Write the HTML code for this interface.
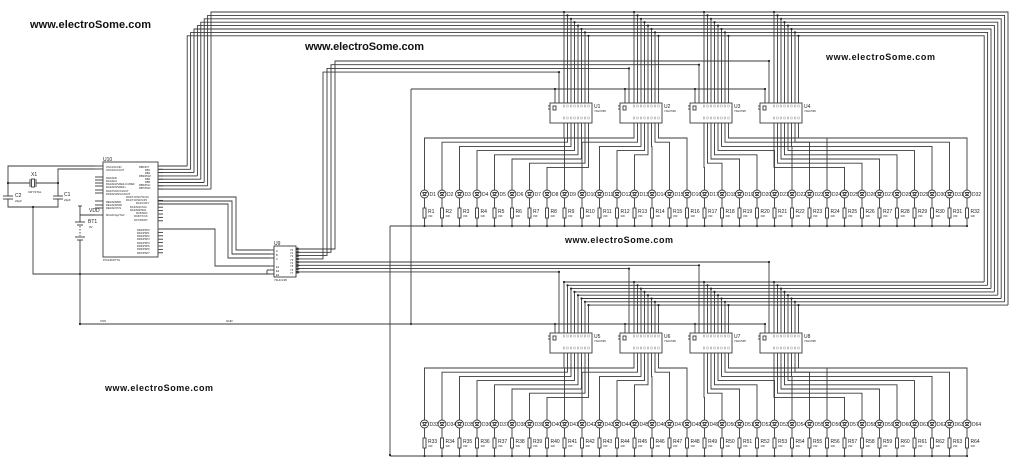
<!DOCTYPE html>
<html><head><meta charset="utf-8"><style>
html,body{margin:0;padding:0;background:#fff;width:1024px;height:467px;overflow:hidden}
svg{display:block}
#w line,#w polyline,#w rect,#w circle.l{stroke:#3a3a3a;stroke-width:0.9;fill:none}
#w rect.c{fill:#fff}
#w circle.d{fill:#222;stroke:none}
.wm{font-family:"Liberation Sans",sans-serif;font-weight:bold;fill:#111}
.t{font-family:"Liberation Sans",sans-serif;fill:#222}
</style></head><body>
<svg id="s" width="1024" height="467" viewBox="0 0 1024 467" xmlns="http://www.w3.org/2000/svg">
<g id="w"></g>
<text class="wm" x="30" y="28" font-size="11" textLength="121">www.electroSome.com</text>
<text class="wm" x="305" y="50" font-size="11" textLength="119">www.electroSome.com</text>
<text class="wm" x="826" y="60" font-size="9" textLength="109">www.electroSome.com</text>
<text class="wm" x="565" y="243" font-size="9" textLength="108">www.electroSome.com</text>
<text class="wm" x="105" y="391" font-size="9" textLength="108">www.electroSome.com</text>

<g class="t" font-size="5">
<text x="594" y="108">U1</text><text x="664" y="108">U2</text><text x="734" y="108">U3</text><text x="804" y="108">U4</text>
<text x="594" y="338">U5</text><text x="664" y="338">U6</text><text x="734" y="338">U7</text><text x="804" y="338">U8</text>
</g>
<g class="t" font-size="2.8">
<text x="594" y="112">74HC595</text><text x="664" y="112">74HC595</text><text x="734" y="112">74HC595</text><text x="804" y="112">74HC595</text>
<text x="594" y="342">74HC595</text><text x="664" y="342">74HC595</text><text x="734" y="342">74HC595</text><text x="804" y="342">74HC595</text>
</g>

<g class="t" font-size="5">
<text x="103" y="161">U10</text>
<text x="274" y="245">U9</text>
<text x="31" y="176">X1</text>
<text x="15" y="197">C2</text>
<text x="64" y="196">C1</text>
<text x="88" y="223">BT1</text>
<text x="89" y="212">VDD</text>
</g>
<g class="t" font-size="3">
<text x="28" y="193">CRYSTAL</text>
<text x="15" y="202">22pF</text>
<text x="64" y="201">22pF</text>
<text x="89" y="228">9V</text>
<text x="103" y="261">PIC16F877A</text>
<text x="274" y="281">74HC138</text>
<text x="100" y="322">VSS</text>
<text x="226" y="322">GND</text>
</g>
<g class="t" font-size="2.6">
<text x="106" y="168">OSC1/CLKIN</text><text x="106" y="171">OSC2/CLKOUT</text>
<text x="106" y="179">RA0/AN0</text><text x="106" y="182">RA1/AN1</text><text x="106" y="185">RA2/AN2/VREF-/CVREF</text><text x="106" y="188">RA3/AN3/VREF+</text><text x="106" y="192">RA4/T0CKI/C1OUT</text><text x="106" y="195">RA5/AN4/SS/C2OUT</text>
<text x="106" y="203">RE0/AN5/RD</text><text x="106" y="206">RE1/AN6/WR</text><text x="106" y="209">RE2/AN7/CS</text>
<text x="106" y="216">MCLR/Vpp/THV</text>
<text x="139" y="168">RB0/INT</text><text x="145" y="171">RB1</text><text x="145" y="174">RB2</text><text x="139" y="177">RB3/PGM</text><text x="145" y="180">RB4</text><text x="145" y="183">RB5</text><text x="139" y="186">RB6/PGC</text><text x="139" y="189">RB7/PGD</text>
<text x="126" y="198">RC0/T1OSO/T1CKI</text><text x="126" y="201">RC1/T1OSI/CCP2</text><text x="136" y="204">RC2/CCP1</text><text x="130" y="208">RC3/SCK/SCL</text><text x="130" y="211">RC4/SDI/SDA</text><text x="136" y="214">RC5/SDO</text><text x="134" y="217">RC6/TX/CK</text><text x="134" y="221">RC7/RX/DT</text>
<text x="137" y="231">RD0/PSP0</text><text x="137" y="234">RD1/PSP1</text><text x="137" y="237">RD2/PSP2</text><text x="137" y="240">RD3/PSP3</text><text x="137" y="244">RD4/PSP4</text><text x="137" y="247">RD5/PSP5</text><text x="137" y="250">RD6/PSP6</text><text x="137" y="254">RD7/PSP7</text>
<text x="276" y="252">A</text><text x="276" y="256">B</text><text x="276" y="260">C</text><text x="276" y="268">E1</text><text x="276" y="272">E2</text><text x="276" y="276">E3</text>
<text x="290" y="251">Y0</text><text x="290" y="254">Y1</text><text x="290" y="257">Y2</text><text x="290" y="261">Y3</text><text x="290" y="264">Y4</text><text x="290" y="267">Y5</text><text x="290" y="271">Y6</text><text x="290" y="274">Y7</text>
</g>

<text id="dt" class="t" font-size="5" y="196"><tspan>D1</tspan><tspan>D2</tspan><tspan>D3</tspan><tspan>D4</tspan><tspan>D5</tspan><tspan>D6</tspan><tspan>D7</tspan><tspan>D8</tspan><tspan>D9</tspan><tspan>D10</tspan><tspan>D11</tspan><tspan>D12</tspan><tspan>D13</tspan><tspan>D14</tspan><tspan>D15</tspan><tspan>D16</tspan><tspan>D17</tspan><tspan>D18</tspan><tspan>D19</tspan><tspan>D20</tspan><tspan>D21</tspan><tspan>D22</tspan><tspan>D23</tspan><tspan>D24</tspan><tspan>D25</tspan><tspan>D26</tspan><tspan>D27</tspan><tspan>D28</tspan><tspan>D29</tspan><tspan>D30</tspan><tspan>D31</tspan><tspan>D32</tspan></text>
<text id="db" class="t" font-size="5" y="426"><tspan>D33</tspan><tspan>D34</tspan><tspan>D35</tspan><tspan>D36</tspan><tspan>D37</tspan><tspan>D38</tspan><tspan>D39</tspan><tspan>D40</tspan><tspan>D41</tspan><tspan>D42</tspan><tspan>D43</tspan><tspan>D44</tspan><tspan>D45</tspan><tspan>D46</tspan><tspan>D47</tspan><tspan>D48</tspan><tspan>D49</tspan><tspan>D50</tspan><tspan>D51</tspan><tspan>D52</tspan><tspan>D53</tspan><tspan>D54</tspan><tspan>D55</tspan><tspan>D56</tspan><tspan>D57</tspan><tspan>D58</tspan><tspan>D59</tspan><tspan>D60</tspan><tspan>D61</tspan><tspan>D62</tspan><tspan>D63</tspan><tspan>D64</tspan></text>
<text id="rt" class="t" font-size="5" y="213"><tspan>R1</tspan><tspan>R2</tspan><tspan>R3</tspan><tspan>R4</tspan><tspan>R5</tspan><tspan>R6</tspan><tspan>R7</tspan><tspan>R8</tspan><tspan>R9</tspan><tspan>R10</tspan><tspan>R11</tspan><tspan>R12</tspan><tspan>R13</tspan><tspan>R14</tspan><tspan>R15</tspan><tspan>R16</tspan><tspan>R17</tspan><tspan>R18</tspan><tspan>R19</tspan><tspan>R20</tspan><tspan>R21</tspan><tspan>R22</tspan><tspan>R23</tspan><tspan>R24</tspan><tspan>R25</tspan><tspan>R26</tspan><tspan>R27</tspan><tspan>R28</tspan><tspan>R29</tspan><tspan>R30</tspan><tspan>R31</tspan><tspan>R32</tspan></text>
<text id="rb" class="t" font-size="5" y="443"><tspan>R33</tspan><tspan>R34</tspan><tspan>R35</tspan><tspan>R36</tspan><tspan>R37</tspan><tspan>R38</tspan><tspan>R39</tspan><tspan>R40</tspan><tspan>R41</tspan><tspan>R42</tspan><tspan>R43</tspan><tspan>R44</tspan><tspan>R45</tspan><tspan>R46</tspan><tspan>R47</tspan><tspan>R48</tspan><tspan>R49</tspan><tspan>R50</tspan><tspan>R51</tspan><tspan>R52</tspan><tspan>R53</tspan><tspan>R54</tspan><tspan>R55</tspan><tspan>R56</tspan><tspan>R57</tspan><tspan>R58</tspan><tspan>R59</tspan><tspan>R60</tspan><tspan>R61</tspan><tspan>R62</tspan><tspan>R63</tspan><tspan>R64</tspan></text>
<text id="vt" class="t" font-size="2.6" y="217"><tspan>330</tspan><tspan>330</tspan><tspan>330</tspan><tspan>330</tspan><tspan>330</tspan><tspan>330</tspan><tspan>330</tspan><tspan>330</tspan><tspan>330</tspan><tspan>330</tspan><tspan>330</tspan><tspan>330</tspan><tspan>330</tspan><tspan>330</tspan><tspan>330</tspan><tspan>330</tspan><tspan>330</tspan><tspan>330</tspan><tspan>330</tspan><tspan>330</tspan><tspan>330</tspan><tspan>330</tspan><tspan>330</tspan><tspan>330</tspan><tspan>330</tspan><tspan>330</tspan><tspan>330</tspan><tspan>330</tspan><tspan>330</tspan><tspan>330</tspan><tspan>330</tspan><tspan>330</tspan></text>
<text id="vb" class="t" font-size="2.6" y="447"><tspan>330</tspan><tspan>330</tspan><tspan>330</tspan><tspan>330</tspan><tspan>330</tspan><tspan>330</tspan><tspan>330</tspan><tspan>330</tspan><tspan>330</tspan><tspan>330</tspan><tspan>330</tspan><tspan>330</tspan><tspan>330</tspan><tspan>330</tspan><tspan>330</tspan><tspan>330</tspan><tspan>330</tspan><tspan>330</tspan><tspan>330</tspan><tspan>330</tspan><tspan>330</tspan><tspan>330</tspan><tspan>330</tspan><tspan>330</tspan><tspan>330</tspan><tspan>330</tspan><tspan>330</tspan><tspan>330</tspan><tspan>330</tspan><tspan>330</tspan><tspan>330</tspan><tspan>330</tspan></text>
</svg>
<script>
(function(){
var h='';
function L(a,b,c,d){h+='<line x1="'+a+'" y1="'+b+'" x2="'+c+'" y2="'+d+'"/>';}
function P(p){h+='<polyline points="'+p+'"/>';}
function D(x,y){h+='<circle class="d" cx="'+x+'" cy="'+y+'" r="1.1"/>';}
function R(x,y,w,hh,c){h+='<rect '+(c?'class="c" ':'')+'x="'+x+'" y="'+y+'" width="'+w+'" height="'+hh+'"/>';}
var cxs=[550,620,690,760];
function lx(n){return 424.5+17.5*n;}
function pos(id,dx){var ts=document.getElementById(id).children;for(var i=0;i<ts.length;i++)ts[i].setAttribute('x',(lx(i)+dx).toFixed(1));}
pos('dt',5);pos('db',5);pos('rt',3.5);pos('rb',3.5);pos('vt',3.5);pos('vb',3.5);

[0,230].forEach(function(off){
  for(var n=0;n<32;n++){var x=lx(n);
    h+='<circle class="l" cx="'+x+'" cy="'+(194+off)+'" r="4"/>';
    P((x-2)+','+(192.5+off)+' '+(x+2)+','+(192.5+off)+' '+x+','+(195.5+off)+' '+(x-2)+','+(192.5+off));
    L(x-2,195.5+off,x+2,195.5+off);
    L(x,198+off,x,208+off);R(x-1.5,208+off,3,10,true);L(x,218+off,x,226+off);D(x,226+off);
  }
  L(390,226+off,967,226+off);
  cxs.forEach(function(cx,k){
    R(cx,103+off,42,20,true);
    L(cx-2,106+off,cx,106+off);L(cx-2,109+off,cx,109+off);
    R(cx+3,106+off,3,4);
    for(var j=0;j<8;j++){var px=cx+14+3.5*j;
      L(px,98+off,px,103+off);
      h+='<rect x="'+(px-0.8)+'" y="'+(105+off)+'" width="1.6" height="2" style="stroke:#888;stroke-width:0.4"/>';
      h+='<rect x="'+(px-0.8)+'" y="'+(117+off)+'" width="1.6" height="2" style="stroke:#888;stroke-width:0.4"/>';
      var lxx=lx(8*k+j),lv;
      if(lxx<px)lv=138+4.2*j;else lv=138+4.2*(7-j);
      P(px+','+(123+off)+' '+px+','+(lv+off)+' '+lxx+','+(lv+off)+' '+lxx+','+(190+off));
    }
  });
});
L(390,226,390,455);
for(var j=0;j<8;j++){
  var y=12+3.4*j,xl=211-3.4*j,xr=1008-3.4*j,yb=305-3.3*j;
  P(xl+','+(166+3.3*(7-j))+' '+xl+','+y+' '+xr+','+y+' '+xr+','+yb);
  L(158,166+3.3*(7-j),xl,166+3.3*(7-j));
  cxs.forEach(function(cx){var px=cx+14+3.5*j;L(px,y,px,98);D(px,y);});
  var i=7-j,yy=282+3.3*i;
  L(cxs[0]+14+3.5*i,yy,xr,yy);
  cxs.forEach(function(cx){var px=cx+14+3.5*i;L(px,yy,px,328);D(px,yy);});
}
for(var i=0;i<4;i++){
  var py=249+3.3*i,vx=335-4*i,ty=61+3.7*i,cx=cxs[3-i];
  P('296,'+py+' '+vx+','+py+' '+vx+','+ty+' '+(cx+9)+','+ty+' '+(cx+9)+',103');
  D(cx+9,ty);
}
for(var i=0;i<4;i++){
  var py=262+3.3*i,cx=cxs[3-i];
  P('296,'+py+' '+(cx+9)+','+py+' '+(cx+9)+',333');
  D(cx+9,py);
}
L(411,89,cxs[3]+5,89);
cxs.forEach(function(cx){L(cx+5,89,cx+5,103);D(cx+5,89);L(cx+5,324,cx+5,333);D(cx+5,324);});
L(411,89,411,324);D(411,324);D(390,455);
L(80,324,cxs[3]+5,324);
R(274,246,22,31,true);
for(var i=0;i<8;i++){L(296,249+3.3*i,300,249+3.3*i);h+='<circle class="l" cx="297.5" cy="'+(249+3.3*i)+'" r="1"/>';}
[250,254,258,266,270,274].forEach(function(y){L(270,y,274,y);});
R(103,162,55,95,true);
[166,169,177,180,183,186,190,193,201,205,208,215].forEach(function(y){L(95,y,103,y);});
for(var i=0;i<8;i++){L(158,166+3.3*i,163,166+3.3*i);L(158,197+3.4*i,163,197+3.4*i);L(158,229+3.4*i,163,229+3.4*i);}
P('158,197 236,197 236,250 270,250');
P('158,201 232,201 232,254 270,254');
P('158,204 228,204 228,258 270,258');
P('158,229 215,229 215,266 270,266');
P('33,207 33,274 270,274');L(267,270,270,270);L(267,270,267,274);D(80,274);
P('95,166 8,166 8,207 58,207 58,169 95,169');
L(8,183,30,183);L(36,183,58,183);R(31.5,179,3,8);L(30,179,30,187);L(36,179,36,187);D(8,183);D(58,183);D(33,207);
L(3,196,13,196);L(3,199,13,199);h+='<rect x="3" y="196.5" width="10" height="2" style="fill:#fff;stroke:none"/>';
L(53,196,63,196);L(53,199,63,199);h+='<rect x="53" y="196.5" width="10" height="2" style="fill:#fff;stroke:none"/>';
P('95,215 80,215 80,222');L(75,222,85,222);L(77,225,83,225);
h+='<line x1="80" y1="226" x2="80" y2="236" style="stroke-dasharray:1.5 1.5"/>';
L(75,237,85,237);L(77,240,83,240);L(80,240,80,324);D(80,324);
L(78,206,82,206);L(80,206,80,215);
document.getElementById('w').innerHTML=h;
})();
</script>
</body></html>
